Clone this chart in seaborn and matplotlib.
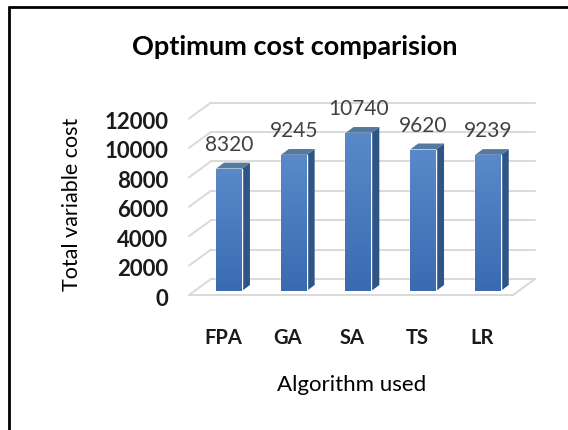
import numpy as np
import matplotlib
matplotlib.use("Agg")
import matplotlib.pyplot as plt
import matplotlib.transforms as mtransforms
from matplotlib.patches import Polygon
from matplotlib.lines import Line2D
from matplotlib.colors import LinearSegmentedColormap
import seaborn as sns

algorithms = ["FPA", "GA", "SA", "TS", "LR"]
costs = [8320, 9245, 10740, 9620, 9239]
y_ticks = [0, 2000, 4000, 6000, 8000, 10000, 12000]

sns.set_style("white")
plt.rcParams['font.family'] = ['Lato', 'DejaVu Sans']

W, H = 568, 430
fig = plt.figure(figsize=(W / 100, H / 100), dpi=100)

# axes box in pixels (bar scale)
ax_left, ax_right = 189, 535
ax_bottom, ax_top = 291, 114.5
ax = fig.add_axes([ax_left / W, (H - ax_bottom) / H,
                   (ax_right - ax_left) / W, (ax_bottom - ax_top) / H])

front = "#4A7DC0"
side = "#2F5586"
top = "#56799F"

sns.barplot(x=algorithms, y=costs, color=front, width=0.4, saturation=1,
            ax=ax, zorder=3)

spacing = 64.7
xlim = (-40 / spacing, (ax_right - 229) / spacing)
ax.set_xlim(*xlim)
ax.set_ylim(0, 12000)
upp = 12000 / (ax_bottom - ax_top)   # data units per pixel

# perspective gridlines
grid_c = "#D9D9D9"
x_front = -40 / spacing
x_back = -18 / spacing
x_end = (ax_right - 229) / spacing
for v in y_ticks:
    ax.plot([x_back, x_end], [v + 12 * upp, v + 12 * upp], color=grid_c,
            lw=1.4, zorder=0, clip_on=False)
    ax.plot([x_front, x_back], [v - 4 * upp, v + 12 * upp], color=grid_c,
            lw=1.4, zorder=0, clip_on=False)
floor_end = (513 - 229) / spacing
ax.plot([x_front, floor_end], [-4 * upp, -4 * upp], color=grid_c, lw=1.4,
        zorder=0, clip_on=False)
ax.plot([floor_end, x_end], [-4 * upp, 12 * upp], color=grid_c, lw=1.4,
        zorder=0, clip_on=False)

# 3d side and top faces + gradient on the front
grad_cmap = LinearSegmentedColormap.from_list("barblue", ["#3A6BB2", "#5A89C9"])
grad = np.linspace(0, 1, 100).reshape(-1, 1)
dx = 8 / spacing
dy = 6 * upp
for p in ax.patches[:len(costs)]:
    x0 = p.get_x()
    x1 = x0 + p.get_width()
    h = p.get_height()
    ax.add_patch(Polygon([(x1, 0), (x1, h), (x1 + dx, h + dy), (x1 + dx, dy)],
                         closed=True, color=side, zorder=2, lw=0))
    ax.add_patch(Polygon([(x0, h), (x1, h), (x1 + dx, h + dy), (x0 + dx, h + dy)],
                         closed=True, color=top, zorder=2, lw=0))
    im = ax.imshow(grad, extent=[x0, x1, 0, h], origin="lower", aspect="auto",
                   cmap=grad_cmap, zorder=3.5)
    im.set_clip_path(p)

ax.set_xlim(*xlim)
ax.set_ylim(0, 12000)

# value labels
for i, v in enumerate(costs):
    ax.annotate(str(v), (i, v), xytext=(0, 24 * 0.72), textcoords="offset points",
                ha="center", va="center", fontsize=15, color="#404040",
                annotation_clip=False)

sns.despine(ax=ax, left=True, bottom=True)
ax.set_yticks(y_ticks)
ax.set_yticklabels([str(t) for t in y_ticks], fontsize=16, fontweight="bold",
                   color="#1a1a1a")
ax.set_xticks(range(len(algorithms)))
ax.set_xticklabels(algorithms, fontsize=14.5, fontweight="bold", color="#1a1a1a")
ax.tick_params(axis="y", length=0, pad=15)
ax.tick_params(axis="x", length=0, pad=27)
for lab in ax.get_yticklabels():
    lab.set_transform(lab.get_transform() +
                      mtransforms.ScaledTranslation(0, -6 / 100, fig.dpi_scale_trans))
for lab in ax.get_xticklabels():
    lab.set_transform(lab.get_transform() +
                      mtransforms.ScaledTranslation(-6 / 100, 0, fig.dpi_scale_trans))
ax.set_xlabel("")
ax.set_ylabel("")
ax.grid(False)

fig.text(295 / W, (H - 55) / H, "Optimum cost comparision", ha="center",
         va="baseline", fontsize=19.5, fontweight="bold", color="#000000")
fig.text(352 / W, (H - 385) / H, "Algorithm used", ha="center", va="center",
         fontsize=16, color="#000000")
fig.text(72 / W, (H - 204) / H, "Total variable cost", ha="center", va="center",
         rotation=90, fontsize=15.5, color="#000000")

# chart border (top and left visible)
fig.add_artist(Line2D([9 / W, 1], [(H - 7) / H, (H - 7) / H], color="black", lw=2))
fig.add_artist(Line2D([9 / W, 9 / W], [0, (H - 7) / H], color="black", lw=2))

fig.savefig("out.png", dpi=100)
